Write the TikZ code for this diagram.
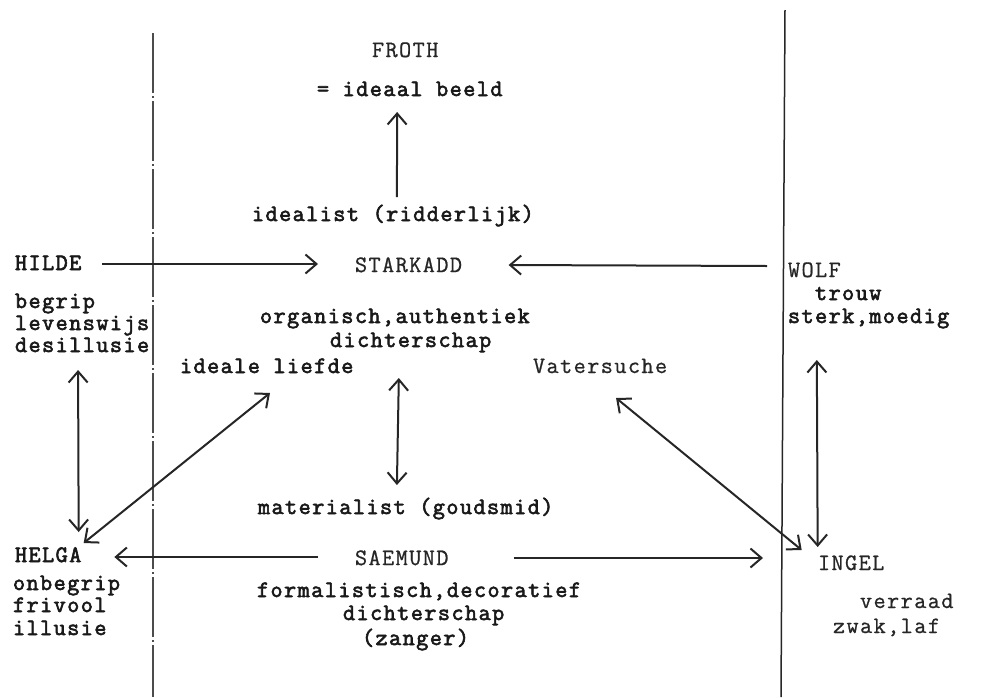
\documentclass[tikz,border=0pt]{standalone}
\usepackage{fontspec}
\newfontfamily\tw{Latin Modern Mono}[LetterSpace=6.2,FakeBold=0.8]
\newfontfamily\twb{Latin Modern Mono}[LetterSpace=6.2,FakeBold=2.6]
\usetikzlibrary{arrows.meta,calc}
\begin{document}
\begin{tikzpicture}[x=1pt,y=-1pt,
  txt/.style={anchor=base west,inner sep=0pt,outer sep=0pt,text height=13pt,text depth=4pt,
    font=\fontsize{23.5}{23.5}\twb,text=black!90},
  captxt/.style={txt,font=\fontsize{23.5}{23.5}\tw,text=black!85},
  lite/.style={txt,font=\fontsize{23.5}{23.5}\tw,text=black!85},
  arr/.style={-{Straight Barb[length=11pt,width=19pt,line width=2pt]},line width=2pt,black!85},
  darr/.style={{Straight Barb[length=11pt,width=19pt,line width=2pt]}-{Straight Barb[length=11pt,width=19pt,line width=2pt]},line width=2pt,black!85}]
\useasboundingbox (0,0) rectangle (989,697);
\fill[white] (0,0) rectangle (989,697);

% dividing lines
\coordinate (lt) at (153,33);
\coordinate (lb) at (153,697);
\coordinate (rt) at (785,10);
\coordinate (rb) at (781,697);
\draw[line width=1.3pt,black!70,dash pattern=on 60pt off 3pt on 2pt off 3pt] (lt) -- (lb);
\draw[line width=1.5pt,black!85] (rt) -- (rb);

% nodes
\node[captxt] (froth) at (372,57) {FROTH};
\node[txt] (beeld) at (317,96) {= ideaal beeld};
\node[txt] (ideal) at (252,221) {idealist (ridderlijk)};
\node[captxt] (stark) at (355,272) {STARKADD};
\node[txt] (org) at (260,323) {organisch,authentiek};
\node[txt] (dicht1) at (330,347) {dichterschap};
\node[txt] (liefde) at (180,373) {ideale liefde};
\node[lite] (vater) at (533,373) {Vatersuche};
\node[txt] (mat) at (258,514) {materialist (goudsmid)};
\node[captxt] (saem) at (355,565) {SAEMUND};
\node[txt] (form) at (257,597) {formalistisch,decoratief};
\node[txt] (dicht2) at (343,620) {dichterschap};
\node[txt] (zanger) at (362,645) {(zanger)};

\node[txt] (hilde) at (15,270) {HILDE};
\node[txt] (begrip) at (15,308) {begrip};
\node[txt] (leven) at (15,330) {levenswijs};
\node[txt] (desil) at (15,352) {desillusie};

\node[txt] (helga) at (15,562) {HELGA};
\node[txt] (onbeg) at (13,590) {onbegrip};
\node[txt] (friv) at (13,612) {frivool};
\node[txt] (illus) at (13,635) {illusie};

\node[captxt] (wolf) at (788,277) {WOLF};
\node[txt] (trouw) at (815,300) {trouw};
\node[txt] (sterk) at (788,323) {sterk,moedig};

\node[captxt] (ingel) at (818,570) {INGEL};
\node[lite] (verr) at (860,608) {verraad};
\node[lite] (zwak) at (833,633) {zwak,laf};

% connectors
\draw[arr] ($(ideal.north)+(4,-11)$) -- ($(beeld.south)+(-12.6,12)$);
\draw[arr] ($(hilde.east)+(21,-1.5)$) -- ($(stark.west)+(-37,-3.5)$);
\draw[arr] ($(wolf.west)+(-21,-6.5)$) -- ($(stark.east)+(46.6,-2.5)$);
\draw[arr] ($(saem.west)+(-37,-3.5)$) -- ($(helga.east)+(33,-0.5)$);
\draw[arr] ($(saem.east)+(65.4,-2.5)$) -- ($(ingel.west)+(-55,-7.5)$);
\draw[darr] ($(desil.south)+(-4,14)$) -- ($(helga.north)+(30.5,-17)$);
\draw[darr] ($(liefde.south)+(3.3,16)$) -- ($(helga.north)+(35.5,-6)$);
\draw[darr] ($(dicht1.south)+(-11.8,27)$) -- ($(mat.north)+(-8.8,-16)$);
\draw[darr] ($(vater.south)+(16,21)$) -- ($(ingel.north)+(-49.5,-7)$);
\draw[darr] ($(sterk.south)+(-51.8,33)$) -- ($(ingel.north)+(-33.5,-10)$);
\end{tikzpicture}
\end{document}
